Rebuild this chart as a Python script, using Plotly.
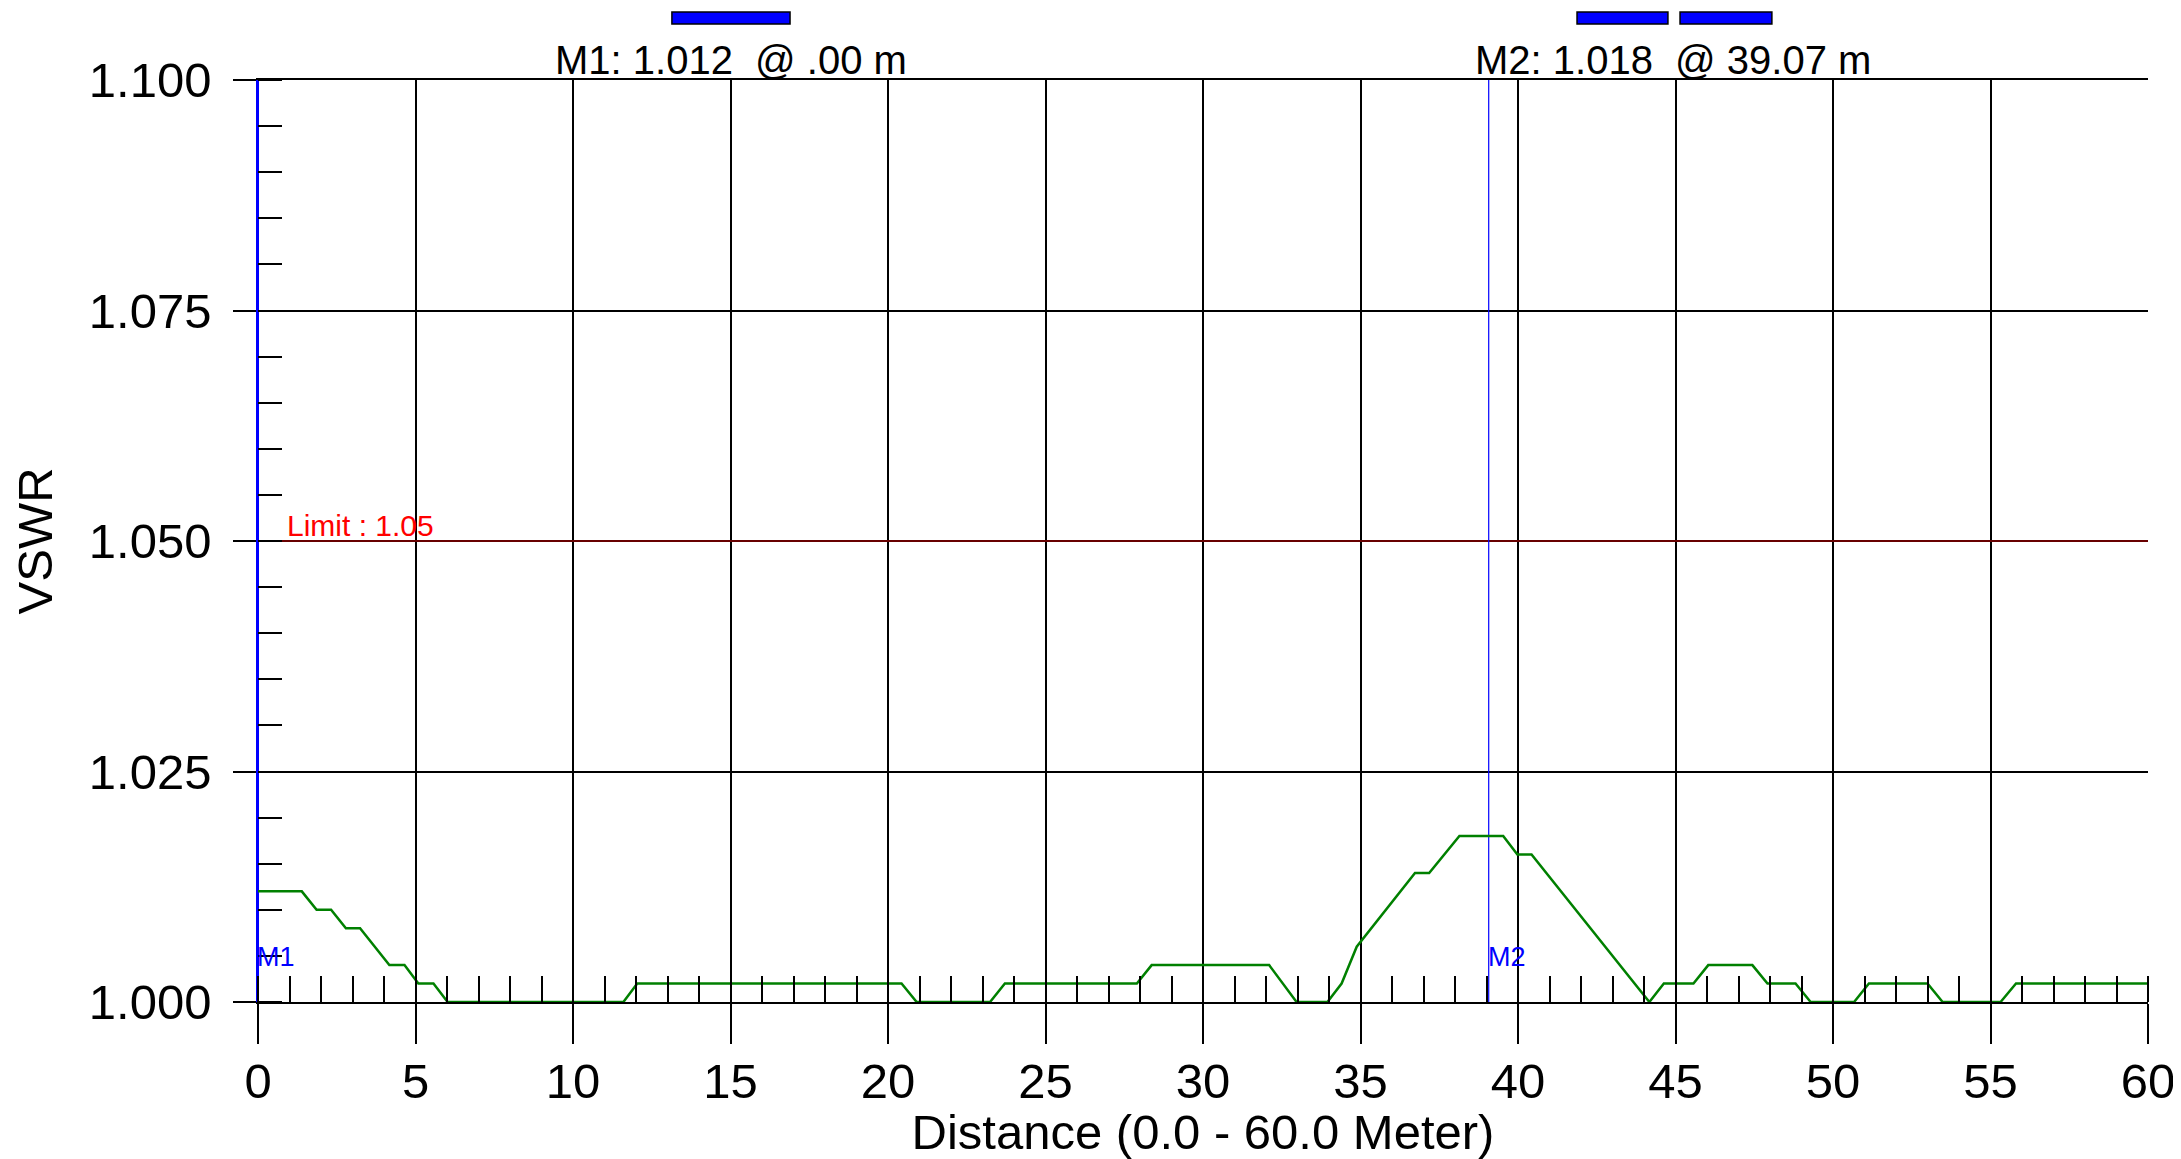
import plotly.graph_objects as go

# ---------------- data ----------------
DIST = [0.00, 1.39, 1.86, 2.32, 2.79, 3.24, 4.17, 4.65, 5.09, 5.57, 6.02, 11.60, 12.04,
        20.43, 20.91, 23.24, 23.71, 27.90, 28.37, 32.10, 32.97, 33.95, 34.40, 34.88,
        36.73, 37.18, 38.14, 39.53, 39.98, 40.43, 44.17, 44.63, 45.57, 46.04, 47.44,
        47.92, 48.81, 49.29, 50.67, 51.14, 53.00, 53.48, 55.32, 55.81, 60.00]
VSWR = [1.012, 1.012, 1.010, 1.010, 1.008, 1.008, 1.004, 1.004, 1.002, 1.002, 1.000, 1.000, 1.002,
        1.002, 1.000, 1.000, 1.002, 1.002, 1.004, 1.004, 1.000, 1.000, 1.002, 1.006,
        1.014, 1.014, 1.018, 1.018, 1.016, 1.016, 1.000, 1.002, 1.002, 1.004, 1.004,
        1.002, 1.002, 1.000, 1.000, 1.002, 1.002, 1.000, 1.000, 1.002, 1.002]

X_TICKS = [0, 5, 10, 15, 20, 25, 30, 35, 40, 45, 50, 55, 60]
Y_TICKS = [1.000, 1.025, 1.050, 1.075, 1.100]
Y_TICK_LABELS = ["1.000", "1.025", "1.050", "1.075", "1.100"]

LIMIT = 1.05
MARKER_NAMES = ["M1", "M2"]
MARKER_POS = [0.0, 39.07]
MARKER_VAL = [1.012, 1.018]
MARKER_POS_TXT = [".00", "39.07"]

X_RANGE = [0, 60]
Y_RANGE = [1.0, 1.1]

FONT = "Liberation Sans, Arial, sans-serif"
TICK_SIZE = 49

fig = go.Figure()

# limit line
fig.add_trace(go.Scatter(x=X_RANGE, y=[LIMIT, LIMIT], mode="lines",
                         line=dict(color="#8B0000", width=1.5), hoverinfo="skip"))

# marker lines
for name, pos in zip(MARKER_NAMES, MARKER_POS):
    fig.add_trace(go.Scatter(x=[pos, pos], y=Y_RANGE, mode="lines",
                             line=dict(color="#0000FF", width=2 if pos == 0 else 1.2),
                             hoverinfo="skip"))

# data trace
fig.add_trace(go.Scatter(x=DIST, y=VSWR, mode="lines",
                         line=dict(color="#008000", width=2.5)))

# limit label
fig.add_annotation(x=0.85, y=LIMIT, xref="x", yref="y", text="Limit : 1.05",
                   showarrow=False, xanchor="left", yanchor="bottom", yshift=-3,
                   font=dict(family=FONT, size=30, color="#FF0000"))

# marker labels in plot
for name, pos in zip(MARKER_NAMES, MARKER_POS):
    fig.add_annotation(x=pos, y=Y_RANGE[0], xref="x", yref="y", text=name,
                       showarrow=False, xanchor="left", yanchor="middle", yshift=45, xshift=-3,
                       font=dict(family=FONT, size=27, color="#0000FF"))

# header readouts
header_x = [0.25, 0.7487]
for hx, name, val, ptxt in zip(header_x, MARKER_NAMES, MARKER_VAL, MARKER_POS_TXT):
    fig.add_annotation(x=hx, y=1.022, xref="paper", yref="paper",
                       text=f"{name}: {val:.3f} \u00a0@ {ptxt} m",
                       showarrow=False, xanchor="center", yanchor="middle",
                       font=dict(family=FONT, size=40, color="black"))

# header buttons
for x0, x1 in [(0.219, 0.2815), (0.6979, 0.746), (0.7524, 0.801)]:
    fig.add_shape(type="rect", xref="paper", yref="paper", x0=x0, x1=x1, y0=1.0607, y1=1.0738,
                  fillcolor="#0000FF", line=dict(color="black", width=1.5))

fig.update_xaxes(
    range=X_RANGE, tickmode="array", tickvals=X_TICKS, ticktext=[str(v) for v in X_TICKS],
    ticks="outside", ticklen=40, tickwidth=2, tickcolor="black",
    ticklabelstandoff=-5,
    showgrid=True, gridcolor="black", gridwidth=2,
    showline=True, linecolor="black", linewidth=2, mirror=True,
    zeroline=False, automargin=False,
    minor=dict(tickmode="linear", tick0=0, dtick=1, ticks="inside", ticklen=26,
               tickwidth=1.5, tickcolor="black", showgrid=False),
    tickfont=dict(family=FONT, size=TICK_SIZE, color="black"),
    title=dict(text="Distance (0.0 - 60.0 Meter)",
               font=dict(family=FONT, size=TICK_SIZE, color="black"), standoff=8),
)
fig.update_yaxes(
    range=Y_RANGE, tickmode="array", tickvals=Y_TICKS, ticktext=Y_TICK_LABELS,
    ticks="outside", ticklen=23, tickwidth=2, tickcolor="black",
    ticklabelstandoff=12,
    showgrid=True, gridcolor="black", gridwidth=2,
    showline=True, linecolor="#0000FF", linewidth=1.5,
    zeroline=False, automargin=False,
    minor=dict(tickmode="linear", tick0=1.0, dtick=0.005, ticks="inside", ticklen=24,
               tickwidth=1.5, tickcolor="black", showgrid=False),
    tickfont=dict(family=FONT, size=TICK_SIZE, color="black"),
    title=dict(text="VSWR", font=dict(family=FONT, size=TICK_SIZE, color="black"), standoff=21),
)

# the page body has an 8px default margin, so the figure is sized to fit the window
fig.update_layout(
    width=2173, height=1151,
    margin=dict(l=250, r=33, t=72, b=157, autoexpand=False),
    paper_bgcolor="white", plot_bgcolor="white",
    showlegend=False,
)

fig.write_html("out.html")
